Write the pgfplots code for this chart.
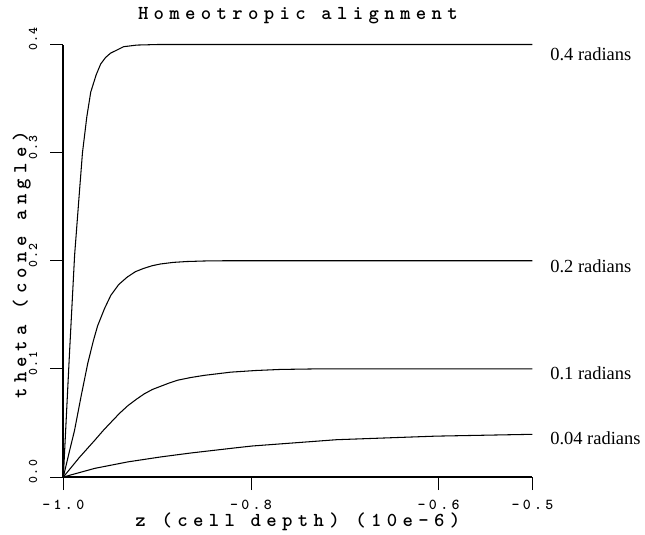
\documentclass[border=0pt]{standalone}
\usepackage{fontspec}
\setmainfont{Liberation Serif}
\newfontfamily\monott[LetterSpace=27]{lmmonolt10-bold.otf}
\newfontfamily\monotick[LetterSpace=22]{lmmonolt10-bold.otf}
\newfontfamily\monoy[LetterSpace=10]{lmmonolt10-bold.otf}
\usepackage{pgfplots}
\pgfplotsset{compat=1.18}

% 1px of the reference = 0.75pt
\newcommand{\titlefont}{\monott\fontsize{15}{17}\selectfont}
\newcommand{\tickfont}{\monotick\fontsize{11.5}{13}\selectfont}
\newcommand{\ytickfont}{\monoy\fontsize{10}{12}\selectfont}
\newcommand{\radfont}{\rmfamily\fontsize{14}{16}\selectfont}

\begin{document}
\begin{tikzpicture}
\begin{axis}[
  scale only axis, width=355.5pt, height=327.75pt,
  xmin=-1, xmax=-0.5, ymin=0, ymax=0.4,
  axis x line*=bottom, axis y line*=left,
  axis line style={black, line width=1.4pt},
  xtick={-1,-0.8,-0.6,-0.5}, xticklabels={-1.0,-0.8,-0.6,-0.5},
  ytick={0,0.1,0.2,0.3,0.4}, yticklabels={0.0,0.1,0.2,0.3,0.4},
  tick align=outside, major tick length=10pt,
  tick style={black, line width=0.7pt},
  xticklabel style={font=\tickfont, anchor=center, yshift=-11pt},
  yticklabel style={font=\ytickfont, anchor=center, xshift=-13pt, yshift=4pt, rotate=90},
  clip=false,
]
% theta0 = 0.4
\addplot[black, line width=0.8pt] coordinates {
  (-1,0) (-0.9937,0.11) (-0.988,0.205) (-0.983,0.262) (-0.9796,0.300)
  (-0.975,0.333) (-0.9708,0.356) (-0.965,0.372) (-0.9602,0.382)
  (-0.955,0.388) (-0.9497,0.392) (-0.9357,0.398) (-0.9216,0.3995)
  (-0.90,0.4) (-0.5,0.4)};
% theta0 = 0.2
\addplot[black, line width=0.8pt] coordinates {
  (-1,0) (-0.994,0.022) (-0.9881,0.043) (-0.981,0.075) (-0.974,0.105)
  (-0.968,0.126) (-0.9634,0.140) (-0.956,0.156) (-0.9494,0.168)
  (-0.941,0.178) (-0.9318,0.185) (-0.923,0.190) (-0.9142,0.193)
  (-0.905,0.1955) (-0.8966,0.197) (-0.883,0.1985) (-0.8685,0.1993)
  (-0.85,0.1998) (-0.83,0.2) (-0.5,0.2)};
% theta0 = 0.1
\addplot[black, line width=0.8pt] coordinates {
  (-1,0) (-0.983,0.018) (-0.9665,0.034) (-0.957,0.0435) (-0.9488,0.051)
  (-0.94,0.059) (-0.9312,0.066) (-0.922,0.072) (-0.9136,0.077)
  (-0.905,0.081) (-0.896,0.084) (-0.887,0.087) (-0.8784,0.0895)
  (-0.8643,0.092) (-0.85,0.094) (-0.8214,0.097) (-0.795,0.0985)
  (-0.7686,0.0995) (-0.73,0.1) (-0.5,0.1)};
% theta0 = 0.04
\addplot[black, line width=0.8pt] coordinates {
  (-1,0) (-0.9665,0.008) (-0.9312,0.014) (-0.896,0.0186) (-0.8643,0.0222)
  (-0.8143,0.0272) (-0.7985,0.0287) (-0.7089,0.0345) (-0.6034,0.0378)
  (-0.5,0.0395)};

\node[anchor=west, font=\radfont] at (axis cs:-0.5,0.4) [xshift=10pt, yshift=-7pt] {0.4 radians};
\node[anchor=west, font=\radfont] at (axis cs:-0.5,0.2) [xshift=10pt, yshift=-4pt] {0.2 radians};
\node[anchor=west, font=\radfont] at (axis cs:-0.5,0.1) [xshift=10pt, yshift=-3pt] {0.1 radians};
\node[anchor=west, font=\radfont] at (axis cs:-0.5,0.04) [xshift=10pt, yshift=-3pt] {0.04 radians};

\node[font=\titlefont] at (rel axis cs:0.5,1.0664) {Homeotropic alignment};
\node[font=\titlefont] at (rel axis cs:0.5,-0.103) {z (cell depth) (10e-6)};
\node[font=\titlefont, rotate=90] at (rel axis cs:-0.0886,0.49) {theta (cone angle)};

\path (rel axis cs:-0.13502,-0.12357) rectangle (rel axis cs:1.22574,1.10297);
\end{axis}
\end{tikzpicture}
\end{document}
